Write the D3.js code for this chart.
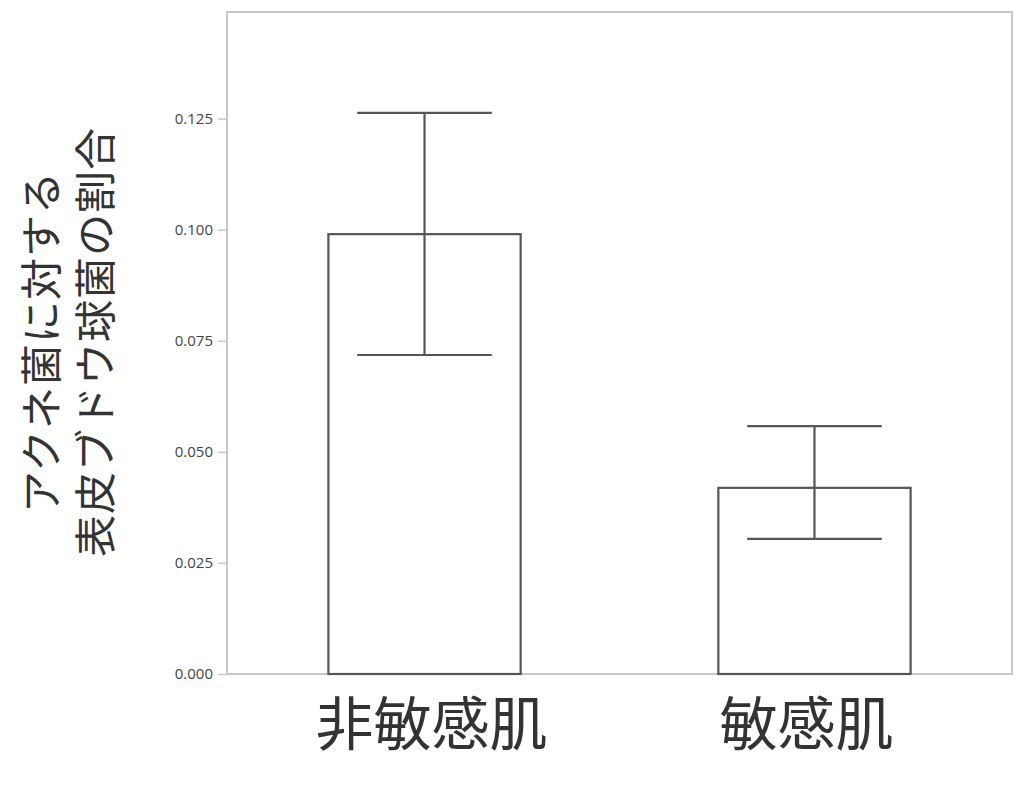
<!DOCTYPE html>
<html>
<head>
<meta charset="utf-8">
<script src="https://cdn.jsdelivr.net/npm/d3@7"></script>
<style>
  body { margin: 0; background: #fff; }
  svg { display: block; }
</style>
</head>
<body>
<div id="chart"></div>
<script>
// data
var categories = ["非敏感肌", "敏感肌"];
var means = [0.099, 0.0419];
var errLow = [0.0718, 0.0304];
var errHigh = [0.1263, 0.0558];
var yTicks = [0, 0.025, 0.05, 0.075, 0.1, 0.125];
var yLabelLines = ["アクネ菌に対する", "表皮ブドウ球菌の割合"];

function bar_chart() {
var W = 1024, H = 798;
var pLeft = 227, pRight = 1012, pTop = 12, pBottom = 674;

var svg = d3.select("#chart").append("svg")
  .attr("width", W).attr("height", H);

var x = d3.scaleBand()
  .domain(categories)
  .range([pLeft, pRight])
  .paddingInner(0.507)
  .paddingOuter(0.26);

var y = d3.scaleLinear()
  .domain([0, 0.149])
  .range([pBottom, pTop]);

// frame
svg.append("rect")
  .attr("x", pLeft).attr("y", pTop)
  .attr("width", pRight - pLeft).attr("height", pBottom - pTop)
  .attr("fill", "none")
  .attr("stroke", "#c8c8c8")
  .attr("stroke-width", 2);

// y axis
var yAxisG = svg.append("g")
  .attr("transform", "translate(" + pLeft + ",0)")
  .call(d3.axisLeft(y).tickValues(yTicks).tickFormat(d3.format(".3f")).tickSize(9).tickPadding(5));
yAxisG.select(".domain").remove();
yAxisG.selectAll(".tick line").attr("stroke", "#c8c8c8").attr("stroke-width", 1.5);
yAxisG.selectAll(".tick text")
  .attr("fill", "#444")
  .attr("font-size", "15px")
  .attr("font-family", "'Open Sans', 'Noto Sans', sans-serif");

// bars
var data = categories.map(function (c, i) {
  return { cat: c, mean: means[i], lo: errLow[i], hi: errHigh[i] };
});

svg.append("g").selectAll("rect")
  .data(data)
  .enter().append("rect")
    .attr("x", function (d) { return x(d.cat); })
    .attr("y", function (d) { return y(d.mean); })
    .attr("width", x.bandwidth())
    .attr("height", function (d) { return y(0) - y(d.mean); })
    .attr("fill", "#fff")
    .attr("stroke", "#555")
    .attr("stroke-width", 2.2);

// error bars
var capW = x.bandwidth() * 0.7;
var cx = function (d) { return x(d.cat) + x.bandwidth() / 2; };
var eg = svg.append("g").selectAll("g")
  .data(data)
  .enter().append("g")
    .attr("stroke", "#555")
    .attr("stroke-width", 2.2);

eg.append("line")
  .attr("x1", cx).attr("x2", cx)
  .attr("y1", function (d) { return y(d.lo); })
  .attr("y2", function (d) { return y(d.hi); });
eg.append("line")
  .attr("x1", function (d) { return cx(d) - capW / 2; })
  .attr("x2", function (d) { return cx(d) + capW / 2; })
  .attr("y1", function (d) { return y(d.hi); })
  .attr("y2", function (d) { return y(d.hi); });
eg.append("line")
  .attr("x1", function (d) { return cx(d) - capW / 2; })
  .attr("x2", function (d) { return cx(d) + capW / 2; })
  .attr("y1", function (d) { return y(d.lo); })
  .attr("y2", function (d) { return y(d.lo); });

// category labels
svg.append("g").selectAll("text")
  .data(categories)
  .enter().append("text")
    .attr("x", function (d, i) { return x(d) + x.bandwidth() / 2 + (i === 0 ? 7 : -8); })
    .attr("y", 745)
    .attr("text-anchor", "middle")
    .attr("fill", "#333")
    .attr("font-size", "58px")
    .attr("font-family", "'Noto Sans CJK JP', sans-serif")
    .text(function (d) { return d; });

// y axis title, two lines
svg.append("g").selectAll("text")
  .data(yLabelLines)
  .enter().append("text")
    .attr("transform", function (d, i) {
      return "translate(" + (57 + i * 54) + ",342) rotate(-90)";
    })
    .attr("text-anchor", "middle")
    .attr("fill", "#333")
    .attr("font-size", "42px")
    .attr("font-family", "'Noto Sans CJK JP', sans-serif")
    .attr("letter-spacing", "1px")
    .text(function (d) { return d; });
}
bar_chart();
</script>
</body>
</html>
